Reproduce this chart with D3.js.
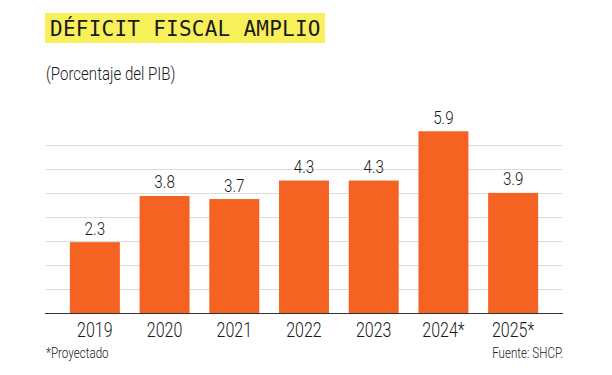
<!DOCTYPE html>
<html>
<head>
<meta charset="utf-8">
<script src="https://cdn.jsdelivr.net/npm/d3@7"></script>
<style>
  html, body { margin: 0; padding: 0; background: #ffffff; }
  svg { display: block; }
  .cond { font-family: Roboto, "Noto Sans", sans-serif; font-weight: 300; }
</style>
</head>
<body>
<svg id="chart" width="612" height="375"></svg>
<script>
const categories = ["2019", "2020", "2021", "2022", "2023", "2024*", "2025*"];
const values = [2.3, 3.8, 3.7, 4.3, 4.3, 5.9, 3.9];
const valueLabels = ["2.3", "3.8", "3.7", "4.3", "4.3", "5.9", "3.9"];
const titleText = "DÉFICIT FISCAL AMPLIO";
const subtitleText = "(Porcentaje del PIB)";
const noteText = "*Proyectado";
const sourceText = "Fuente: SHCP.";

const svg = d3.select("#chart");
const W = 612, H = 375;
svg.append("rect").attr("width", W).attr("height", H).attr("fill", "#fff");

const SX = 0.8; // horizontal condensing of the label font
function condText(parent, tx, ty, str, size, anchor, sx, weight) {
  return parent.append("text").attr("class", "cond")
    .attr("transform", `translate(${tx},${ty}) scale(${sx || SX},1)`)
    .attr("text-anchor", anchor || "start")
    .attr("font-weight", weight || 300)
    .attr("font-size", size).attr("fill", "#1a1a1a").text(str);
}

const baseY = 313;
const x = d3.scaleBand().domain(categories).range([60, 548]).paddingInner(0.283).paddingOuter(0.1415);
const y = d3.scaleLinear().domain([0, 6]).range([baseY, baseY - 6 * 30.8]);
const gridY = d3.scaleLinear().domain([0, 7]).range([baseY, 145]);

// Title box
const titleG = svg.append("g");
titleG.append("rect").attr("x", 45).attr("y", 13).attr("width", 280).attr("height", 30).attr("fill", "#f8f05a");
titleG.append("text").attr("x", 50).attr("y", 36.3)
  .attr("font-family", "'DejaVu Sans Mono', monospace").attr("font-size", 21)
  .attr("letter-spacing", 0.25).attr("fill", "#1a1a1a").text(titleText);

condText(svg, 46, 80, subtitleText, 17.5, "start", 0.86, 400);

// Grid
svg.append("g").selectAll("line").data(gridY.ticks(7).filter(d => d > 0)).join("line")
  .attr("x1", 46).attr("x2", 562)
  .attr("y1", d => Math.round(gridY(d)) + 0.5).attr("y2", d => Math.round(gridY(d)) + 0.5)
  .attr("stroke", "#dcdcdc").attr("stroke-width", 1);

// Bars
svg.append("g").selectAll("rect").data(values).join("rect")
  .attr("x", (d, i) => x(categories[i]))
  .attr("width", x.bandwidth())
  .attr("y", d => y(d))
  .attr("height", d => baseY - y(d))
  .attr("fill", "#f46322");

// Value labels
svg.append("g").selectAll("text").data(values).join("text")
  .attr("class", "cond")
  .attr("transform", (d, i) => `translate(${x(categories[i]) + x.bandwidth() / 2},${y(d) - 7.5}) scale(${SX},1)`)
  .attr("text-anchor", "middle").attr("font-size", 19).attr("fill", "#1a1a1a")
  .text((d, i) => valueLabels[i]);

// Category axis
const xAxis = d3.axisBottom(x).tickSize(0).tickPadding(0);
const ax = svg.append("g").attr("transform", `translate(0,${baseY})`).call(xAxis);
ax.select(".domain").remove();
ax.selectAll("text").attr("class", "cond").attr("font-size", 20).attr("fill", "#1a1a1a")
  .attr("dy", 0).attr("y", 0)
  .attr("transform", `translate(0,24) scale(${SX},1)`);
svg.append("line").attr("x1", 45).attr("x2", 563).attr("y1", baseY + 0.5).attr("y2", baseY + 0.5)
  .attr("stroke", "#333").attr("stroke-width", 1.2);

condText(svg, 46, 358, noteText, 14.5);
condText(svg, 563, 358, sourceText, 14.5, "end");
</script>
</body>
</html>
